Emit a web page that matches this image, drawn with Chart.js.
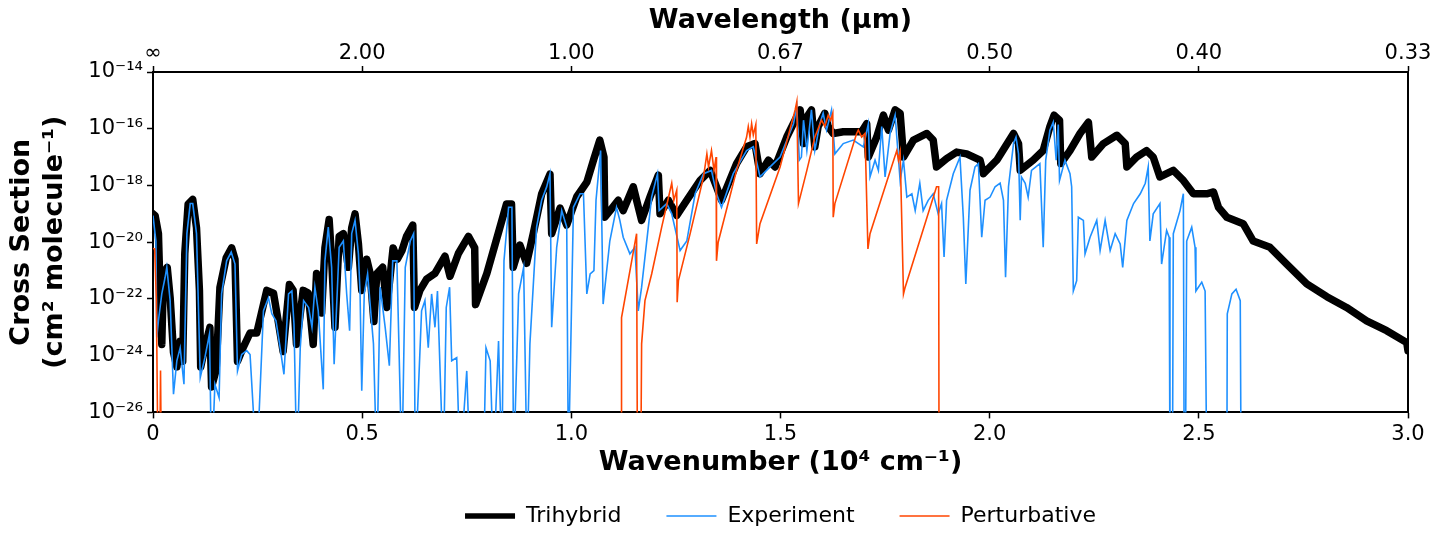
<!DOCTYPE html>
<html>
<head>
<meta charset="utf-8">
<script src="https://cdn.jsdelivr.net/npm/chart.js@4"></script>
<style>
html,body{margin:0;padding:0;background:#fff;}
#wrap{width:1443px;height:544px;position:relative;}
</style>
</head>
<body>
<div id="wrap"><canvas id="c"></canvas></div>
<script>
// ---------- DATA (wavenumber in 10^4 cm^-1, cross section in cm^2 molecule^-1) ----------
const seriesNames = ['Trihybrid', 'Experiment', 'Perturbative'];

const trihybridWavenumber = [
  0.000,0.005,0.013,0.017,0.021,0.025,0.034,0.041,0.049,0.057,0.065,0.071,0.076,0.084,0.095,0.104,0.111,0.114,0.124,0.136,
  0.140,0.151,0.160,0.175,0.188,0.196,0.202,0.216,0.232,0.248,0.272,0.288,0.296,0.311,0.326,0.335,0.343,0.359,0.371,0.383,
  0.391,0.403,0.411,0.421,0.427,0.435,0.445,0.455,0.467,0.475,0.483,0.491,0.499,0.511,0.519,0.528,0.535,0.549,0.559,0.574,
  0.584,0.595,0.606,0.621,0.625,0.638,0.654,0.674,0.698,0.710,0.730,0.754,0.769,0.771,0.798,0.829,0.845,0.857,0.861,0.877,
  0.893,0.909,0.929,0.949,0.953,0.973,0.989,1.013,1.037,1.053,1.068,1.078,1.080,1.096,1.112,1.124,1.148,1.168,1.188,1.208,
  1.212,1.232,1.252,1.276,1.308,1.332,1.347,1.359,1.395,1.419,1.439,1.451,1.471,1.487,1.515,1.547,1.555,1.563,1.574,1.582,
  1.590,1.606,1.614,1.626,1.650,1.674,1.694,1.706,1.710,1.730,1.746,1.758,1.774,1.786,1.794,1.818,1.850,1.865,1.873,1.897,
  1.921,1.945,1.977,1.985,2.017,2.057,2.069,2.073,2.104,2.128,2.144,2.154,2.167,2.170,2.192,2.216,2.236,2.244,2.272,2.304,
  2.324,2.328,2.351,2.375,2.391,2.407,2.439,2.463,2.487,2.519,2.535,2.547,2.567,2.606,2.630,2.670,2.710,2.758,2.806,2.853,
  2.901,2.949,2.997,3.000
];
const trihybridCrossSection = [
  1.0e-19,8.7e-20,2.0e-20,1.6e-22,2.5e-24,7.9e-22,1.3e-21,1.1e-22,1.3e-24,4.0e-25,3.2e-24,6.3e-25,4.0e-21,2.2e-19,3.2e-19,3.2e-20,2.0e-22,4.0e-25,2.0e-24,1.0e-23,
  7.9e-26,3.2e-25,2.5e-22,2.8e-21,6.3e-21,2.5e-21,6.3e-25,2.0e-24,6.3e-24,6.3e-24,2.0e-22,1.6e-22,3.2e-23,1.4e-24,3.2e-22,2.0e-22,2.5e-24,2.0e-22,1.6e-22,2.5e-24,
  7.9e-22,3.2e-23,6.3e-21,6.3e-20,2.5e-21,1.0e-23,1.6e-20,2.0e-20,1.3e-21,3.2e-20,1.0e-19,8.9e-21,2.0e-22,2.5e-21,7.9e-22,1.6e-23,7.9e-22,1.3e-21,5.0e-23,6.3e-21,
  2.5e-21,5.0e-21,1.6e-20,4.0e-20,5.0e-23,2.0e-22,5.0e-22,7.9e-22,3.2e-21,6.3e-22,4.0e-21,1.6e-20,6.3e-21,6.3e-23,7.9e-22,3.2e-20,2.2e-19,2.2e-19,1.3e-21,7.9e-21,
  1.8e-21,2.0e-20,5.0e-19,2.5e-18,2.0e-20,1.6e-19,4.0e-20,4.0e-19,1.3e-18,7.8e-18,4.0e-17,1.0e-17,7.6e-20,1.5e-19,3.0e-19,1.3e-19,9.0e-19,5.9e-20,3.9e-19,2.3e-18,
  1.0e-19,3.0e-19,8.7e-20,3.0e-19,1.5e-18,3.4e-18,9.0e-19,3.0e-19,5.9e-18,2.3e-17,3.0e-17,2.6e-18,7.8e-18,4.5e-18,5.1e-17,4.6e-16,3.0e-17,2.6e-16,4.6e-16,2.3e-17,
  1.2e-16,3.5e-16,1.2e-16,6.8e-17,7.8e-17,7.8e-17,7.8e-17,1.5e-16,1.0e-17,5.1e-17,3.0e-16,8.9e-17,4.6e-16,3.5e-16,1.0e-17,4.0e-17,6.8e-17,4.0e-17,4.5e-18,8.9e-18,
  1.5e-17,1.3e-17,7.8e-18,2.6e-18,7.8e-18,6.8e-17,3.0e-17,3.4e-18,7.8e-18,1.7e-17,1.2e-16,3.0e-16,2.0e-16,5.9e-18,1.7e-17,6.8e-17,1.7e-16,1.0e-17,3.0e-17,5.9e-17,
  3.0e-17,4.5e-18,1.0e-17,1.7e-17,1.0e-17,2.0e-18,3.4e-18,1.5e-18,5.1e-19,5.1e-19,5.9e-19,1.7e-19,7.6e-20,4.5e-20,1.1e-20,6.6e-21,1.7e-21,3.4e-22,1.2e-22,5.0e-23,
  1.7e-23,7.6e-24,2.9e-24,1.5e-24
];

const experimentWavenumber = [
  0.000,0.007,0.009,0.013,0.021,0.029,0.033,0.041,0.049,0.057,0.065,0.074,0.081,0.089,0.095,0.104,0.113,0.124,0.135,0.140,
  0.148,0.158,0.164,0.176,0.187,0.196,0.202,0.212,0.224,0.232,0.248,0.264,0.276,0.284,0.294,0.304,0.313,0.324,0.332,0.337,
  0.344,0.352,0.360,0.372,0.380,0.387,0.395,0.407,0.411,0.419,0.427,0.433,0.445,0.455,0.463,0.470,0.475,0.483,0.491,0.495,
  0.499,0.505,0.513,0.527,0.535,0.543,0.555,0.565,0.573,0.583,0.595,0.603,0.615,0.623,0.627,0.634,0.642,0.650,0.658,0.666,
  0.674,0.680,0.694,0.701,0.709,0.714,0.726,0.734,0.750,0.758,0.790,0.796,0.806,0.814,0.826,0.834,0.839,0.850,0.858,0.862,
  0.874,0.886,0.894,0.901,0.917,0.929,0.941,0.949,0.953,0.965,0.977,0.989,0.993,1.005,1.021,1.029,1.037,1.045,1.054,1.059,
  1.070,1.076,1.092,1.108,1.116,1.124,1.140,1.152,1.160,1.168,1.184,1.192,1.206,1.210,1.228,1.240,1.260,1.276,1.296,1.316,
  1.335,1.347,1.359,1.387,1.419,1.435,1.451,1.475,1.499,1.531,1.539,1.545,1.550,1.555,1.563,1.574,1.582,1.594,1.602,1.610,
  1.622,1.630,1.650,1.674,1.698,1.710,1.714,1.726,1.734,1.742,1.750,1.762,1.774,1.786,1.794,1.802,1.814,1.822,1.833,1.841,
  1.853,1.865,1.877,1.885,1.891,1.897,1.913,1.929,1.937,1.943,1.953,1.965,1.973,1.981,1.989,2.001,2.013,2.025,2.033,2.038,
  2.045,2.057,2.063,2.069,2.073,2.076,2.085,2.092,2.100,2.120,2.128,2.134,2.144,2.152,2.159,2.164,2.167,2.180,2.192,2.196,
  2.200,2.208,2.212,2.224,2.228,2.240,2.256,2.264,2.276,2.288,2.300,2.312,2.318,2.328,2.344,2.360,2.372,2.379,2.383,2.391,
  2.407,2.411,2.423,2.429,2.431,2.437,2.439,2.455,2.463,2.465,2.468,2.471,2.483,2.491,2.493,2.507,2.515,2.519,2.567,2.568,
  2.579,2.589,2.599,2.601
];
const experimentCrossSection = [
  8.7e-20,1.1e-20,4.4e-24,1.7e-23,1.5e-22,5.8e-22,1.3e-21,8.7e-23,4.4e-26,6.6e-25,1.9e-24,9.8e-26,2.0e-20,2.3e-19,2.3e-19,2.0e-20,1.7e-25,8.5e-25,5.8e-24,1e-28,
  9.8e-26,3.3e-26,1.5e-22,2.2e-21,4.5e-21,1.7e-21,2.9e-25,1.1e-24,1.5e-24,1.1e-24,1e-28,3.8e-23,1.1e-22,3.0e-23,1.7e-23,1.9e-24,2.2e-25,1.5e-22,1.9e-22,1.3e-23,
  1e-28,1.9e-24,8.7e-23,5.0e-23,1.0e-23,2.6e-22,3.8e-23,6.5e-26,2.2e-21,3.4e-20,1.3e-21,5.0e-25,6.6e-21,1.1e-20,1.5e-22,7.6e-24,2.0e-20,5.9e-20,3.9e-21,1.5e-22,
  5.8e-26,1.5e-22,7.6e-22,2.6e-24,1e-28,2.6e-22,1.0e-23,4.4e-25,2.2e-21,2.2e-21,1e-28,1.3e-21,1.1e-20,2.0e-20,1e-28,4.4e-26,3.8e-23,8.7e-23,1.9e-24,1.5e-22,
  1.0e-23,1.9e-22,1e-28,5.0e-23,2.6e-22,6.6e-25,8.5e-25,1e-28,2.9e-25,1e-28,1e-28,1.9e-24,6.6e-25,1e-28,3.3e-24,1e-28,2.2e-21,1.7e-19,1.7e-19,1e-28,
  1.5e-22,1.3e-21,1e-28,2.6e-24,3.4e-20,3.0e-19,8.9e-19,2.6e-18,1.0e-23,6.6e-21,1.3e-19,3.4e-20,1e-28,1.7e-19,5.1e-19,5.1e-19,1.5e-22,7.6e-22,1.0e-21,3.0e-19,
  1.7e-17,6.6e-23,1.1e-20,1.7e-19,5.9e-20,1.5e-20,3.9e-21,6.6e-21,3.8e-23,2.6e-22,3.4e-20,3.9e-19,2.6e-18,1.3e-19,2.3e-19,1.0e-19,5.1e-21,1.1e-20,5.1e-19,2.6e-18,
  3.4e-18,5.1e-19,1.7e-19,2.6e-18,1.7e-17,2.3e-17,2.0e-18,4.5e-18,1.0e-17,1.5e-16,5.9e-16,7.8e-18,1.0e-17,2.0e-16,1.7e-17,4.6e-16,1.7e-17,1.5e-16,3.5e-16,8.9e-17,
  4.6e-16,1.3e-17,3.0e-17,4.0e-17,2.3e-17,1.5e-16,2.0e-18,7.8e-18,3.4e-18,1.2e-16,2.0e-18,6.8e-17,3.0e-16,1.5e-18,7.8e-18,3.9e-19,5.1e-19,1.3e-19,1.2e-18,1.3e-19,
  3.0e-19,5.1e-19,1.0e-19,2.3e-19,3.0e-21,3.0e-19,2.6e-18,1.0e-17,7.6e-20,3.4e-22,6.8e-19,4.5e-18,5.9e-18,1.5e-20,3.0e-19,3.9e-19,9.0e-19,1.2e-18,3.0e-19,5.8e-22,
  9.0e-19,3.0e-17,5.1e-17,1.3e-17,5.9e-20,2.0e-18,1.2e-18,3.9e-19,3.4e-18,5.9e-18,6.6e-21,7.8e-18,8.9e-17,1.7e-16,7.8e-18,1.4e-16,1.5e-18,7.8e-18,2.6e-18,9.0e-19,
  1.9e-22,4.4e-22,7.6e-20,5.9e-20,3.9e-21,1.5e-20,5.9e-20,5.1e-21,5.9e-20,5.1e-21,2.0e-20,8.7e-21,1.3e-21,5.9e-20,2.3e-19,5.1e-19,1.2e-18,4.5e-18,1.1e-20,1.0e-19,
  2.3e-19,1.7e-21,2.6e-20,1.5e-20,1e-28,1e-28,2.0e-20,1.3e-19,5.1e-19,1e-28,1e-28,1.1e-20,3.4e-20,6.6e-21,1.9e-22,3.9e-22,1.9e-22,1e-28,1e-28,3.0e-23,
  1.5e-22,2.2e-22,8.7e-23,1e-28
];

const perturbativeWavenumber = [
  0.000,0.004,0.008,0.012,0.015,0.016,0.018,0.020,0.500,
  1.120,1.120,1.156,1.158,1.162,1.166,1.168,1.176,1.192,1.216,1.240,1.245,1.252,1.253,1.256,1.284,1.316,1.324,1.328,1.335,1.341,
  1.346,1.347,1.351,1.395,1.419,1.423,1.427,1.431,1.435,1.441,1.443,1.451,1.499,1.535,1.539,1.543,1.563,1.582,1.598,1.606,
  1.614,1.620,1.625,1.626,1.630,1.682,1.686,1.694,1.702,1.709,1.714,1.778,1.782,1.786,1.794,1.798,1.873,1.878,1.879
];
const perturbativeCrossSection = [
  6.0e-21,5.8e-21,1.0e-22,1e-28,null,1e-28,3.0e-25,1e-28,null,
  1e-28,2.2e-23,2.0e-20,1e-28,null,1e-28,2.6e-24,8.7e-23,7.6e-22,3.4e-20,1.2e-18,3.0e-19,6.8e-19,7.6e-23,4.4e-22,2.0e-20,2.0e-18,1.3e-17,4.5e-18,1.7e-17,3.4e-18,
  1.0e-17,2.2e-21,1.0e-20,3.4e-18,5.1e-17,1.2e-16,5.1e-17,1.5e-16,6.0e-17,1.4e-16,8.7e-21,4.5e-20,4.5e-18,4.6e-16,9.0e-16,2.3e-19,3.4e-18,5.0e-17,2.0e-16,1.2e-16,
  3.0e-16,2.0e-16,3.5e-16,7.6e-20,2.3e-19,6.8e-17,8.9e-17,5.1e-17,6.8e-17,5.8e-21,2.0e-20,1.7e-17,7.8e-18,1.5e-17,1.5e-22,2.6e-22,9.0e-19,9.0e-19,1e-28
];

// ---------- TICKS ----------
const xTickValues = [0, 0.5, 1.0, 1.5, 2.0, 2.5, 3.0];
const xTickLabels = ['0', '0.5', '1.0', '1.5', '2.0', '2.5', '3.0'];
const topTickLabels = ['∞', '2.00', '1.00', '0.67', '0.50', '0.40', '0.33'];
const yTickValues = [1e-26, 1e-24, 1e-22, 1e-20, 1e-18, 1e-16, 1e-14];
const yTickLabels = ['10⁻²⁶', '10⁻²⁴', '10⁻²²', '10⁻²⁰', '10⁻¹⁸', '10⁻¹⁶', '10⁻¹⁴'];

// ---------- CHART ----------
function toPoints(xs, ys) { return xs.map((x, i) => ({ x: x, y: ys[i] })); }

Chart.defaults.font.family = "'DejaVu Sans', sans-serif";
Chart.defaults.color = '#000';

const tickGrid = { drawOnChartArea: false, drawTicks: true, tickLength: 6, tickWidth: 1.5, tickColor: '#000' };
const frameBorder = { display: true, color: '#000', width: 2 };
const LEGEND_PAD = 45;

const chart = new Chart(document.getElementById('c'), {
  type: 'line',
  data: {
    datasets: [
      { label: seriesNames[0], data: toPoints(trihybridWavenumber, trihybridCrossSection),
        borderColor: '#000000', backgroundColor: '#000000', borderWidth: 7.5,
        borderJoinStyle: 'round', borderCapStyle: 'round', pointRadius: 0, order: 3 },
      { label: seriesNames[1], data: toPoints(experimentWavenumber, experimentCrossSection),
        borderColor: '#1E90FF', backgroundColor: '#1E90FF', borderWidth: 1.6, pointRadius: 0, order: 2 },
      { label: seriesNames[2], data: toPoints(perturbativeWavenumber, perturbativeCrossSection),
        borderColor: '#FF4500', backgroundColor: '#FF4500', borderWidth: 1.6, pointRadius: 0, order: 1 }
    ]
  },
  options: {
    responsive: true,
    maintainAspectRatio: false,
    animation: false,
    spanGaps: false,
    layout: { padding: { left: 0, right: 0, top: 0, bottom: 7 } },
    plugins: {
      tooltip: { enabled: false },
      legend: {
        position: 'bottom',
        fullSize: false,
        labels: {
          font: { size: 22 },
          color: '#000',
          usePointStyle: true,
          pointStyle: 'line',
          pointStyleWidth: 50,
          padding: LEGEND_PAD,
          sort: (a, b) => a.datasetIndex - b.datasetIndex,
          generateLabels: (ch) => {
            const items = Chart.defaults.plugins.legend.labels.generateLabels(ch);
            items.forEach(it => { if (it.datasetIndex === 0) it.lineWidth = 5.5; it.lineCap = 'butt'; });
            return items;
          }
        }
      }
    },
    scales: {
      x: {
        type: 'linear', position: 'bottom', min: 0, max: 3,
        afterBuildTicks: s => { s.ticks = xTickValues.map(v => ({ value: v })); },
        afterFit: s => { s.height = 47.6; },
        ticks: { callback: (v, i) => xTickLabels[i], font: { size: 21 }, color: '#000', padding: 4, maxRotation: 0, autoSkip: false },
        grid: tickGrid, border: frameBorder,
        title: { display: true, text: 'Wavenumber (10⁴ cm⁻¹)', color: '#000', font: { size: 27, weight: 'bold' }, padding: { top: 0, bottom: -19 } }
      },
      x2: {
        type: 'linear', position: 'top', min: 0, max: 3,
        afterBuildTicks: s => { s.ticks = xTickValues.map(v => ({ value: v })); },
        afterFit: s => { s.height = 72; },
        ticks: { callback: (v, i) => topTickLabels[i], font: { size: 21 }, color: '#000', padding: 0, maxRotation: 0, autoSkip: false },
        grid: tickGrid, border: frameBorder,
        title: { display: true, text: 'Wavelength (μm)', color: '#000', font: { size: 27, weight: 'bold' }, padding: { top: 5, bottom: 0 } }
      },
      y: {
        type: 'logarithmic', position: 'left', min: 1e-26, max: 1e-14,
        afterBuildTicks: s => { s.ticks = yTickValues.map(v => ({ value: v })); },
        afterFit: s => { s.width = 153; },
        ticks: { callback: (v, i) => yTickLabels[i], font: { size: 21 }, color: '#000', padding: 4, autoSkip: false },
        grid: tickGrid, border: frameBorder,
        title: { display: true, text: ['Cross Section', '(cm² molecule⁻¹)'], color: '#000',
                 font: { size: 27, weight: 'bold', lineHeight: 1.2 }, padding: { top: 6, bottom: 0 } }
      },
      y2: {
        type: 'logarithmic', position: 'right', min: 1e-26, max: 1e-14,
        afterFit: s => { s.width = 35; },
        ticks: { display: false },
        grid: { display: false, drawOnChartArea: false, drawTicks: false },
        border: frameBorder
      }
    }
  }
});
</script>
</body>
</html>
